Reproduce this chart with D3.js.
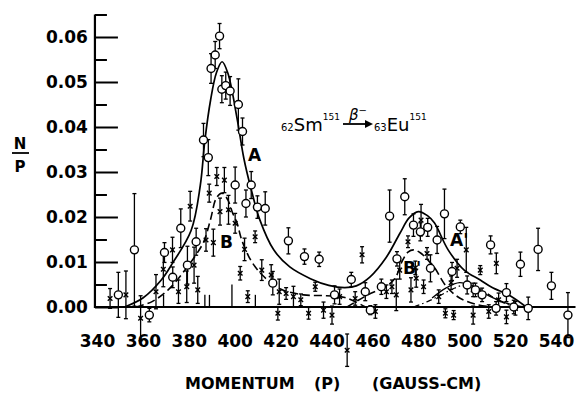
<!DOCTYPE html>
<html><head><meta charset="utf-8">
<script src="https://cdn.jsdelivr.net/npm/d3@7/dist/d3.min.js"></script>
<style>
html,body{margin:0;padding:0;background:#fff;}
text{font-family:"DejaVu Sans",sans-serif;fill:#000;}
</style></head>
<body>
<svg id="chart" width="579" height="395"></svg>
<script>
// ---- data ----
const xTicks = [340,360,380,400,420,440,460,480,500,520,540];
const yMajorTicks = [0.00,0.01,0.02,0.03,0.04,0.05,0.06];
const yMinorTicks = [0.005,0.015,0.025,0.035,0.045,0.055,0.065];

// curve A (solid, total fit)
const curveA = [[352,0],[360,0.002],[368,0.006],[373,0.0098],[381,0.017],[385,0.027],[387,0.037],[389.5,0.046],[392,0.052],[394.5,0.0545],[397,0.052],[401,0.042],[404,0.033],[407,0.0265],[411,0.0193],[417,0.0127],[424,0.0089],[433,0.0063],[441,0.0048],[448,0.0043],[453,0.0047],[459,0.0067],[466,0.011],[472,0.0164],[476,0.0198],[480,0.0212],[484,0.0203],[487,0.0187],[493,0.0127],[500,0.0082],[507,0.006],[512,0.0044],[520,0.0025],[527,0]];
// curve B (dashed, first peak)
const curveB = [[357,0],[364,0.0012],[371,0.0038],[378,0.008],[383,0.0115],[386.5,0.0145],[389.5,0.0195],[392,0.0242],[394.5,0.0253],[397,0.0238],[399,0.021],[401,0.0187],[403,0.015],[407,0.0104],[412,0.0071],[420,0.004],[430,0.0027],[440,0.0025],[448,0.0021],[457,0]];
// curve B' (dashed, second peak)
const curveB2 = [[449,0],[458,0.0027],[466,0.0046],[470,0.0065],[473,0.0102],[475.5,0.0122],[478,0.0127],[481,0.012],[484,0.0105],[487,0.0088],[492,0.0047],[498,0.002],[505,0.0006],[512,0]];
// small components near 500
const curveC = [[486,0.002],[492,0.0042],[498,0.0054],[504,0.0045],[511,0.0024],[518,0.0009],[526,0]];
const curveD = [[478,0],[484,0.0012],[490,0.0027],[495,0.004],[500,0.0049],[505,0.0045],[510,0.003],[516,0.0012],[522,0]];

// open circles: [momentum, N/P, error]
const circlePts = [[349.3,0.0027,0.005],[356.3,0.0127,0.0125],[362.8,-0.0018,0.0015],[369.4,0.0121,0.0022],[373.0,0.0066,0.0023],[376.5,0.0175,0.0043],[379.4,0.0093,0.0042],[383.2,0.0145,0.003],[386.4,0.0371,0.0037],[388.5,0.0332,0.004],[389.7,0.053,0.0033],[391.5,0.056,0.003],[393.4,0.0602,0.0028],[394.4,0.0484,0.003],[396.1,0.0492,0.003],[398.0,0.048,0.0032],[401.6,0.045,0.0057],[403.4,0.039,0.003],[400.2,0.0271,0.004],[407.2,0.0271,0.003],[404.9,0.023,0.003],[409.9,0.0222,0.0025],[413.3,0.0219,0.0037],[416.6,0.0053,0.0026],[423.4,0.0147,0.0029],[430.4,0.0112,0.0017],[436.8,0.0106,0.0016],[443.5,0.0027,0.002],[450.8,0.0061,0.0016],[456.9,0.0034,0.002],[459.1,-0.0007,0.001],[463.9,0.0045,0.0017],[467.5,0.0202,0.0058],[470.7,0.0107,0.0016],[474.1,0.0245,0.004],[477.9,0.0182,0.0025],[480.9,0.0167,0.002],[484.1,0.0177,0.002],[485.3,0.0086,0.003],[488.2,0.0149,0.003],[491.4,0.0207,0.0055],[494.7,0.0079,0.002],[498.3,0.0178,0.0015],[501.3,0.0049,0.002],[504.9,0.0038,0.0015],[507.8,0.0027,0.0015],[511.5,0.0138,0.002],[513.9,-0.0003,0.0015],[518.4,0.0032,0.002],[521.6,0.0,0.0015],[524.5,0.0095,0.0027],[527.9,-0.0003,0.0025],[532.2,0.0128,0.0047],[538.0,0.0047,0.003],[545.2,-0.0018,0.005]];

// crosses: [momentum, N/P, error]
const crossPts = [[345.7,0.0019,0.0022],[352.6,0.0027,0.0053],[359.0,-0.0025,0.005],[365.7,0.0034,0.0038],[368.9,0.0084,0.0039],[372.9,0.0127,0.0028],[375.5,0.0034,0.0026],[379.1,0.0045,0.0035],[380.6,0.0224,0.0033],[382.3,0.0093,0.004],[383.9,0.0038,0.003],[387.5,0.0149,0.0025],[388.9,0.0253,0.002],[390.7,0.0143,0.003],[392.2,0.029,0.002],[393.6,0.0212,0.003],[395.5,0.0282,0.0028],[397.3,0.0216,0.0032],[400.2,0.0186,0.0022],[402.4,0.0075,0.0015],[404.3,0.0128,0.0025],[405.7,0.0023,0.0013],[408.9,0.0156,0.0013],[411.8,0.0082,0.0023],[415.9,0.0071,0.0023],[418.8,-0.0014,0.0015],[419.4,0.0034,0.0028],[422.4,0.003,0.0013],[425.6,0.0023,0.0023],[428.8,0.0016,0.0013],[432.2,-0.0014,0.0013],[435.1,0.0045,0.001],[438.7,-0.0007,0.0018],[442.4,-0.0018,0.002],[445.7,0.0023,0.0017],[449.0,-0.0096,0.0036],[452.5,0.0019,0.0015],[455.5,0.0116,0.0018],[461.3,-0.001,0.0015],[466.1,0.0034,0.0015],[468.5,0.0045,0.0015],[470.4,0.0027,0.0035],[471.9,0.0082,0.002],[475.5,0.0145,0.0013],[476.8,0.0038,0.0027],[478.7,0.0087,0.0015],[479.1,0.0064,0.002],[481.2,0.0193,0.0035],[482.3,0.0045,0.0015],[483.8,0.0119,0.0013],[488.9,0.0023,0.0015],[491.8,-0.0014,0.001],[494.3,0.0054,0.0015],[495.4,-0.0018,0.001],[496.9,0.0086,0.002],[500.9,0.0127,0.005],[503.9,0.0038,0.0015],[503.9,-0.0018,0.002],[507.0,0.0082,0.001],[510.7,-0.001,0.0015],[514.0,0.0097,0.0023],[515.0,0.0016,0.0015],[518.4,-0.0022,0.0015],[522.3,-0.0003,0.0015]];

// error bars standing on the axis with no visible mark: [momentum, top]
const axisBars = [[369,0.0027],[387,0.0027],[389,0.0027],[398.8,0.005],[409,0.0027]];

// ---- drawing ----
const svg = d3.select("#chart");
const x = d3.scaleLinear().domain([340,540]).range([97,556]);
const y = d3.scaleLinear().domain([0,0.06]).range([307,37]);

// axes lines
svg.append("line").attr("x1",x(339.1)).attr("x2",x(548.5)).attr("y1",y(0)).attr("y2",y(0))
  .attr("stroke","#000").attr("stroke-width",2.2);
svg.append("line").attr("x1",x(339.1)).attr("x2",x(339.1)).attr("y1",y(0.065)).attr("y2",y(0)+1)
  .attr("stroke","#000").attr("stroke-width",2.2);

// y ticks
const yAxis = d3.axisLeft(y).tickValues(yMajorTicks).tickSizeInner(-23).tickSizeOuter(0)
  .tickPadding(7).tickFormat(d3.format(".2f"));
const gy = svg.append("g").attr("transform",`translate(${x(339.1)},0)`).call(yAxis);
gy.select(".domain").remove();
gy.selectAll(".tick line").attr("stroke","#000").attr("stroke-width",2);
gy.selectAll(".tick text").style("font-size","17px").style("font-weight","bold").attr("fill","#000");
const yMinor = d3.axisLeft(y).tickValues(yMinorTicks).tickSizeInner(-12).tickSizeOuter(0).tickFormat("");
const gym = svg.append("g").attr("transform",`translate(${x(339.1)},0)`).call(yMinor);
gym.select(".domain").remove();
gym.selectAll(".tick line").attr("stroke","#000").attr("stroke-width",2);

// x tick labels
const xAxis = d3.axisBottom(x).tickValues(xTicks).tickSize(0).tickPadding(28).tickFormat(d3.format("d"));
const gx = svg.append("g").attr("transform",`translate(0,${y(0)})`).call(xAxis);
gx.select(".domain").remove();
gx.selectAll(".tick text").style("font-size","17px").style("font-weight","bold").attr("fill","#000");

// curves
const line = d3.line().x(d=>x(d[0])).y(d=>y(d[1])).curve(d3.curveCatmullRom.alpha(0.5));
svg.append("path").attr("d",line(curveA)).attr("fill","none").attr("stroke","#000").attr("stroke-width",1.7);
svg.append("path").attr("d",line(curveB)).attr("fill","none").attr("stroke","#000").attr("stroke-width",1.6).attr("stroke-dasharray","8,4");
svg.append("path").attr("d",line(curveB2)).attr("fill","none").attr("stroke","#000").attr("stroke-width",1.6).attr("stroke-dasharray","8,4");
svg.append("path").attr("d",line(curveC)).attr("fill","none").attr("stroke","#000").attr("stroke-width",1.3);
svg.append("path").attr("d",line(curveD)).attr("fill","none").attr("stroke","#000").attr("stroke-width",1.2).attr("stroke-dasharray","6,3,1.5,3");

// error bars
function errBars(data, cls){
  const g = svg.append("g").attr("class",cls);
  data.forEach(d=>{
    const cx = x(d[0]), yt = y(d[1]+d[2]), yb = y(d[1]-d[2]);
    g.append("line").attr("x1",cx).attr("x2",cx).attr("y1",yt).attr("y2",yb).attr("stroke","#000").attr("stroke-width",1.3);
    g.append("line").attr("x1",cx-2).attr("x2",cx+2).attr("y1",yt).attr("y2",yt).attr("stroke","#000").attr("stroke-width",1.3);
    g.append("line").attr("x1",cx-2).attr("x2",cx+2).attr("y1",yb).attr("y2",yb).attr("stroke","#000").attr("stroke-width",1.3);
  });
}
errBars(crossPts,"xbars");
errBars(circlePts,"obars");
svg.append("g").selectAll("line").data(axisBars).join("line")
  .attr("x1",d=>x(d[0])).attr("x2",d=>x(d[0])).attr("y1",d=>y(d[1])).attr("y2",y(0))
  .attr("stroke","#000").attr("stroke-width",1.3);

// cross marks
const gc = svg.append("g");
crossPts.forEach(d=>{
  const cx = x(d[0]), cy = y(d[1]), s = 2.3;
  gc.append("path").attr("d",`M${cx-s},${cy-s}L${cx+s},${cy+s}M${cx-s},${cy+s}L${cx+s},${cy-s}`)
    .attr("stroke","#000").attr("stroke-width",1.4).attr("fill","none");
});

// circles
svg.append("g").selectAll("circle").data(circlePts).join("circle")
  .attr("cx",d=>x(d[0])).attr("cy",d=>y(d[1])).attr("r",4)
  .attr("fill","#fff").attr("stroke","#000").attr("stroke-width",1.4);

// labels on curves
const lab = (t,xx,yy,fs)=>svg.append("text").attr("x",xx).attr("y",yy).style("font-size",fs+"px").style("font-weight","bold").text(t);
lab("A",248,161,17);
lab("B",220,248,17);
lab("A'",450,246,17);
lab("B'",403,274,17);

// reaction annotation
const ann = svg.append("text").attr("x",281).attr("y",131).style("font-size","18px");
ann.append("tspan").style("font-size","10px").text("62");
ann.append("tspan").text("Sm");
ann.append("tspan").style("font-size","9px").attr("dy",-11).text("151");
svg.append("line").attr("x1",343).attr("x2",367).attr("y1",124).attr("y2",124).attr("stroke","#000").attr("stroke-width",1.8);
svg.append("path").attr("d","M373,124L365,120L365,128Z").attr("fill","#000");
const beta = svg.append("text").attr("x",349).attr("y",120).style("font-size","15px").style("font-style","italic");
beta.append("tspan").text("β");
beta.append("tspan").style("font-size","10px").attr("dy",-6).text("−");
const eu = svg.append("text").attr("x",374).attr("y",131).style("font-size","18px");
eu.append("tspan").style("font-size","10px").text("63");
eu.append("tspan").text("Eu");
eu.append("tspan").style("font-size","9px").attr("dy",-11).text("151");

// y-axis title N/P
svg.append("text").attr("x",20).attr("y",149).attr("text-anchor","middle").style("font-size","15px").style("font-weight","bold").text("N");
svg.append("line").attr("x1",12).attr("x2",29).attr("y1",153).attr("y2",153).attr("stroke","#000").attr("stroke-width",1.8);
svg.append("text").attr("x",20).attr("y",172).attr("text-anchor","middle").style("font-size","15px").style("font-weight","bold").text("P");

// x-axis title
lab("MOMENTUM",185,389,16);
lab("(P)",314,389,16);
lab("(GAUSS-CM)",372,389,16);
</script>
</body></html>
